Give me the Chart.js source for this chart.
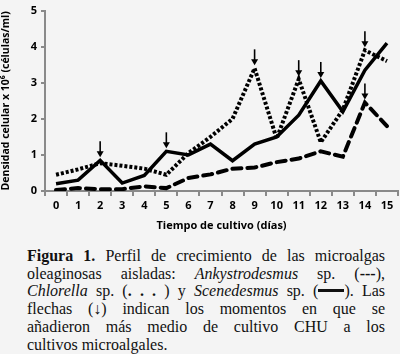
<!DOCTYPE html>
<html>
<head>
<meta charset="utf-8">
<script src="https://cdn.jsdelivr.net/npm/chart.js@4"></script>
<style>
  html, body { margin: 0; padding: 0; background: #f4f4f4; }
  #wrap { width: 400px; height: 354px; position: relative; overflow: hidden; }
  #chartBox { width: 400px; height: 232px; position: relative; }
  #caption {
    position: absolute; left: 27px; top: 247px; width: 358px;
    font-family: "Liberation Serif", serif; font-size: 16px; line-height: 17.7px;
    color: #111;
  }
  #caption div { text-align: justify; text-align-last: justify; white-space: nowrap; }
  #caption div.last { text-align-last: left; }
  .solid { display: inline-block; width: 26px; height: 3px; background: #111; vertical-align: 4px; }
</style>
</head>
<body>
<div id="wrap">
  <div id="chartBox"><canvas id="c"></canvas></div>
  <div id="caption">
    <div><b>Figura 1.</b> Perfil de crecimiento de las microalgas</div>
    <div>oleaginosas aisladas: <i>Ankystrodesmus</i> sp. (<b>---</b>),</div>
    <div><i>Chlorella</i> sp. (<b>. . .</b> ) y <i>Scenedesmus</i> sp. (<span class="solid"></span>). Las</div>
    <div>flechas (&#8595;) indican los momentos en que se</div>
    <div>añadieron más medio de cultivo CHU a los</div>
    <div class="last">cultivos microalgales.</div>
  </div>
</div>
<script>
"use strict";

// Days of culture
const days = ['0', '1', '2', '3', '4', '5', '6', '7', '8', '9', '10', '11', '12', '13', '14', '15'];

// Cell density x 10^6 (cells/ml)
const ankystrodesmus = [0.03, 0.08, 0.05, 0.05, 0.13, 0.08, 0.36, 0.46, 0.62, 0.65, 0.8, 0.9, 1.1, 0.95, 2.45, 1.8];
const chlorella = [0.45, 0.6, 0.77, 0.7, 0.62, 0.45, 1.05, 1.5, 2.0, 3.4, 1.45, 3.1, 1.35, 2.25, 3.9, 3.6];
const scenedesmus = [0.2, 0.3, 0.85, 0.22, 0.43, 1.1, 1.0, 1.3, 0.84, 1.3, 1.5, 2.1, 3.05, 2.2, 3.35, 4.1];

const yTicks = [0, 1, 2, 3, 4, 5];

// Medium additions: [dataset index, day index]
const additions = [[2, 2], [2, 5], [1, 9], [1, 11], [2, 12], [1, 14], [0, 14]];

const axisGray = '#8a8a8a';
const tickFont = {family: 'Open Sans', size: 11, weight: 'bold'};

// Draws the little down arrows above the points where medium was added
const arrowPlugin = {
    id: 'arrows',
    afterDatasetsDraw(chart) {
        const ctx = chart.ctx;
        ctx.save();
        ctx.strokeStyle = '#000';
        ctx.fillStyle = '#000';
        ctx.lineWidth = 1.6;
        additions.forEach(([ds, idx]) => {
            const pt = chart.getDatasetMeta(ds).data[idx];
            const x = pt.x;
            const tip = pt.y - 3;
            ctx.beginPath();
            ctx.moveTo(x, tip - 16);
            ctx.lineTo(x, tip - 5);
            ctx.stroke();
            ctx.beginPath();
            ctx.moveTo(x - 3.5, tip - 6);
            ctx.lineTo(x + 3.5, tip - 6);
            ctx.lineTo(x, tip);
            ctx.closePath();
            ctx.fill();
        });
        ctx.restore();
    }
};

const ctx = document.getElementById('c').getContext('2d');

new Chart(ctx, {
    type: 'line',
    data: {
        labels: days,
        datasets: [
            {
                label: 'Ankystrodesmus sp.',
                data: ankystrodesmus,
                borderColor: '#000',
                borderWidth: 4,
                borderDash: [9, 6],
                borderCapStyle: 'round'
            },
            {
                label: 'Chlorella sp.',
                data: chlorella,
                borderColor: '#000',
                borderWidth: 4,
                borderDash: [3, 2]
            },
            {
                label: 'Scenedesmus sp.',
                data: scenedesmus,
                borderColor: '#000',
                borderWidth: 3.5
            }
        ]
    },
    options: {
        responsive: true,
        maintainAspectRatio: false,
        animation: false,
        elements: {
            point: {radius: 0},
            line: {tension: 0, fill: false}
        },
        layout: {padding: {top: 6, right: 2, left: 0, bottom: 0}},
        plugins: {
            legend: {display: false},
            tooltip: {enabled: false}
        },
        scales: {
            x: {
                type: 'category',
                offset: true,
                grid: {
                    display: true,
                    offset: true,
                    drawOnChartArea: false,
                    color: axisGray,
                    tickLength: 5,
                    lineWidth: 2
                },
                border: {color: axisGray, width: 2},
                ticks: {color: '#000', font: tickFont, padding: 3, maxRotation: 0, autoSkip: false},
                title: {
                    display: true,
                    text: 'Tiempo de cultivo (días)',
                    color: '#000',
                    font: {family: 'Open Sans', size: 11, weight: 'bold'},
                    padding: {top: 0, bottom: 0}
                },
                afterFit: scale => { scale.height = 232 - 191; }
            },
            y: {
                min: 0,
                max: 5,
                afterBuildTicks: scale => { scale.ticks = yTicks.map(v => ({value: v})); },
                grid: {
                    display: true,
                    drawOnChartArea: false,
                    color: axisGray,
                    tickLength: 4,
                    lineWidth: 2
                },
                border: {color: axisGray, width: 2},
                ticks: {color: '#000', font: tickFont, padding: 4},
                title: {
                    display: true,
                    text: 'Densidad celular x 10⁶ (células/ml)',
                    color: '#000',
                    font: {family: 'Open Sans', size: 10.5, weight: 'bold'},
                    padding: {top: 0, bottom: 2}
                },
                afterFit: scale => { scale.width = 45; }
            }
        }
    },
    plugins: [arrowPlugin]
});
</script>
</body>
</html>
